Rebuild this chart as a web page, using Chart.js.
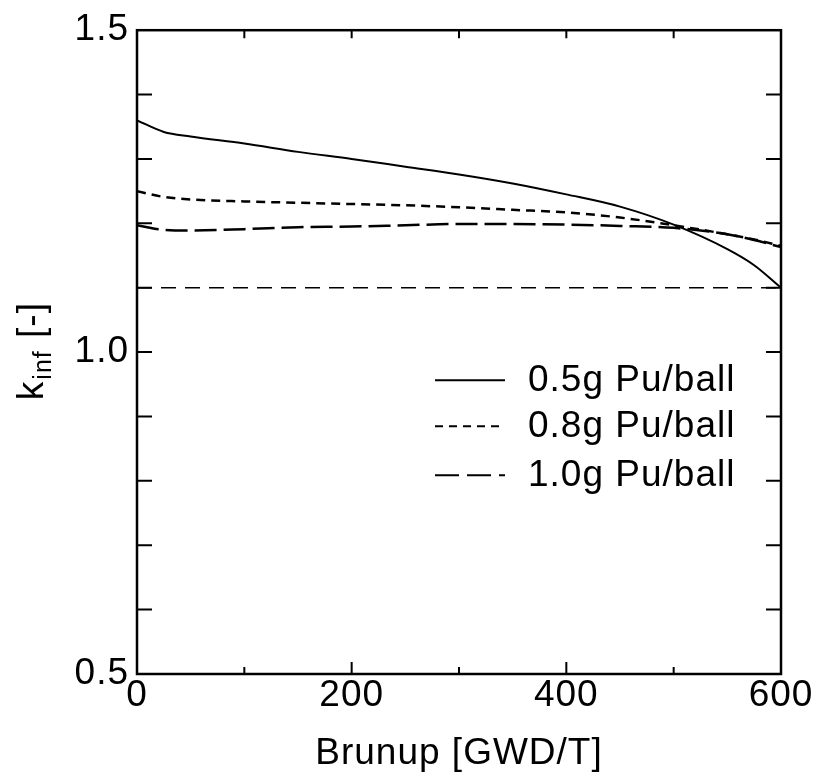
<!DOCTYPE html>
<html>
<head>
<meta charset="utf-8">
<script src="https://cdn.jsdelivr.net/npm/chart.js@4.4.1/dist/chart.umd.min.js"></script>
<style>
  html, body { margin: 0; padding: 0; background: #fff; }
  #wrap { width: 816px; height: 778px; }
</style>
</head>
<body>
<div id="wrap"><canvas id="kinfChart" width="816" height="778"></canvas></div>
<script>
// burnup points [GWD/T]
var burnup = [0, 25, 50, 100, 150, 200, 250, 300, 350, 400, 450, 500, 550, 575, 600];

var kinf05 = [1.360, 1.342, 1.335, 1.324, 1.311, 1.300, 1.288, 1.276, 1.262, 1.245, 1.226, 1.198, 1.160, 1.135, 1.100];
var kinf08 = [1.250, 1.241, 1.237, 1.234, 1.232, 1.230, 1.228, 1.225, 1.221, 1.217, 1.209, 1.197, 1.183, 1.175, 1.165];
var kinf10 = [1.197, 1.190, 1.189, 1.191, 1.194, 1.195, 1.197, 1.199, 1.199, 1.198, 1.196, 1.193, 1.183, 1.174, 1.163];

// horizontal reference level
var refX = [0, 600];
var refK = [1.1, 1.1];

var seriesLabels = ['0.5g Pu/ball', '0.8g Pu/ball', '1.0g Pu/ball'];

var xMinorTicks = [100, 200, 300, 400, 500];
var xMajorTicks = [200, 400];
var yMinorTicks = [0.6, 0.7, 0.8, 0.9, 1.0, 1.1, 1.2, 1.3, 1.4];

var FONT = '"Liberation Sans", Arial, Helvetica, sans-serif';

function pts(xs, ys) {
    return xs.map(function (x, i) { return { x: x, y: ys[i] }; });
}

var styles = [
    { dash: [], legendDash: [], width: 2 },
    { dash: [9, 6], legendDash: [8, 6], width: 2.5 },
    { dash: [22, 7], legendDash: [24, 8], width: 2.5 }
];

var frameAndTicks = {
    id: 'frameAndTicks',
    beforeDraw: function (chart) {
        chart.ctx.letterSpacing = '1px';
    },
    afterDatasetsDraw: function (chart) {
        var ctx = chart.ctx;
        var a = chart.chartArea;
        var xs = chart.scales.x, ys = chart.scales.y;
        ctx.save();
        ctx.strokeStyle = '#000';
        ctx.lineWidth = 2.5;
        ctx.setLineDash([]);
        ctx.strokeRect(a.left, a.top, a.right - a.left, a.bottom - a.top);
        ctx.lineWidth = 2;
        ctx.beginPath();
        yMinorTicks.forEach(function (v) {
            var py = ys.getPixelForValue(v);
            ctx.moveTo(a.left, py); ctx.lineTo(a.left + 15, py);
            ctx.moveTo(a.right, py); ctx.lineTo(a.right - 15, py);
        });
        xMinorTicks.forEach(function (v) {
            var px = xs.getPixelForValue(v);
            var len = xMajorTicks.indexOf(v) >= 0 ? 12 : 7;
            ctx.moveTo(px, a.bottom); ctx.lineTo(px, a.bottom - len);
            ctx.moveTo(px, a.top); ctx.lineTo(px, a.top + 8);
        });
        ctx.stroke();
        ctx.restore();
    },
    afterDraw: function (chart) {
        var ctx = chart.ctx;
        var a = chart.chartArea;
        ctx.save();
        ctx.letterSpacing = '1px';
        // legend inside the plot
        ctx.fillStyle = '#000';
        ctx.strokeStyle = '#000';
        ctx.font = '37px ' + FONT;
        ctx.textBaseline = 'middle';
        ctx.textAlign = 'left';
        var rowY = [350, 396, 445];
        seriesLabels.forEach(function (lab, i) {
            var y = a.top + rowY[i];
            ctx.lineWidth = 2;
            ctx.setLineDash(styles[i].legendDash);
            ctx.beginPath();
            ctx.moveTo(a.left + 298, y);
            ctx.lineTo(a.left + 368, y);
            ctx.stroke();
            ctx.setLineDash([]);
            ctx.fillText(lab, a.left + 391, y + 1);
        });
        // y axis title with subscript
        var cx = 30, cy = (a.top + a.bottom) / 2;
        ctx.translate(cx, cy);
        ctx.rotate(-Math.PI / 2);
        ctx.textBaseline = 'alphabetic';
        var big = '37px ' + FONT, small = '25px ' + FONT;
        ctx.font = big; var wk = ctx.measureText('k').width; var wr = ctx.measureText(' [-]').width;
        ctx.font = small; var ws = ctx.measureText('inf').width;
        var x0 = -(wk + ws + wr) / 2;
        ctx.font = big; ctx.fillText('k', x0, 13);
        ctx.font = small; ctx.fillText('inf', x0 + wk + 1, 21);
        ctx.font = big; ctx.fillText(' [-]', x0 + wk + ws + 2, 13);
        ctx.restore();
    }
};

var kinfChart = new Chart(document.getElementById('kinfChart'), {
    type: 'line',
    data: {
        datasets: [
            {
                label: seriesLabels[0],
                data: pts(burnup, kinf05),
                borderColor: '#000',
                borderWidth: styles[0].width,
                borderDash: styles[0].dash,
                pointRadius: 0,
                cubicInterpolationMode: 'monotone'
            },
            {
                label: seriesLabels[1],
                data: pts(burnup, kinf08),
                borderColor: '#000',
                borderWidth: styles[1].width,
                borderDash: styles[1].dash,
                pointRadius: 0,
                cubicInterpolationMode: 'monotone'
            },
            {
                label: seriesLabels[2],
                data: pts(burnup, kinf10),
                borderColor: '#000',
                borderWidth: styles[2].width,
                borderDash: styles[2].dash,
                pointRadius: 0,
                cubicInterpolationMode: 'monotone'
            },
            {
                label: 'k = 1.1',
                data: pts(refX, refK),
                borderColor: '#000',
                borderWidth: 1.5,
                borderDash: [15, 9],
                pointRadius: 0
            }
        ]
    },
    options: {
        animation: false,
        responsive: false,
        layout: { padding: { top: 22, right: 35, left: 0, bottom: 0 } },
        plugins: {
            legend: { display: false },
            tooltip: { enabled: false }
        },
        scales: {
            x: {
                type: 'linear',
                min: 0,
                max: 600,
                grid: { display: false, drawTicks: false },
                border: { display: false },
                ticks: {
                    stepSize: 200,
                    padding: 0,
                    color: '#000',
                    maxRotation: 0,
                    font: { family: FONT, size: 37 }
                },
                title: {
                    display: true,
                    text: 'Brunup [GWD/T]',
                    color: '#000',
                    padding: { top: 0, bottom: 2 },
                    font: { family: FONT, size: 37 }
                },
                afterFit: function (scale) { scale.height = 104; }
            },
            y: {
                type: 'linear',
                min: 0.5,
                max: 1.5,
                grid: { display: false, drawTicks: false },
                border: { display: false },
                ticks: {
                    stepSize: 0.5,
                    padding: 8,
                    color: '#000',
                    font: { family: FONT, size: 37 },
                    callback: function (value) { return value.toFixed(1); }
                },
                afterFit: function (scale) { scale.width = 137; }
            }
        }
    },
    plugins: [frameAndTicks]
});
</script>
</body>
</html>
